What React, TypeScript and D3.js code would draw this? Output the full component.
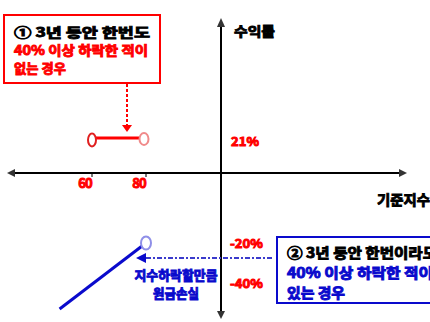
import React from "react";
import * as d3 from "d3";

// Data
const xTicks = [60, 80];
const yLabels = [21, -20, -40];
const redSeries: [number, number][] = [[60, 21], [80, 21]];
const blueSeries: [number, number][] = [[80, -20], [48, -53]];
const box1Lines = ["① 3년 동안 한번도", "40% 이상 하락한 적이", "없는 경우"];
const box2Lines = ["② 3년 동안 한번이라도", "40% 이상 하락한 적이", "있는 경우"];
const blueNote = ["지수하락할만큼", "원금손실"];
const axisTitles = ["수익률", "기준지수"];

const W = 430, H = 322;
const FONT = "'Noto Sans CJK KR', 'Noto Sans', sans-serif";
const RED = "#ff0000";
const BLUE = "#0a0acc";

function T(props: any) {
  const { fill, sw = 0.9, children, ...rest } = props;
  return (
    <text fontFamily={FONT} fontWeight={700} fill={fill} stroke={fill} strokeWidth={sw} {...rest}>{children}</text>
  );
}

export default function App() {
  const x = d3.scaleLinear().domain([60, 80]).range([92, 146]);
  const y = d3.scaleLinear().domain([-40, -20, 0, 21]).range([283, 243, 173, 138]);
  const axisX = 221;
  const axisY = y(0);
  const line = d3.line<[number, number]>().x(d => x(d[0])).y(d => y(d[1]));
  const dashY = y(-27.5);

  return (
    <svg width={W} height={H} style={{ position: "absolute", left: 0, top: 0, background: "#fff" }}>
      {/* axes */}
      <line x1={12} x2={402} y1={axisY} y2={axisY} stroke="#000" strokeWidth={2} />
      <line x1={axisX} x2={axisX} y1={22} y2={315} stroke="#000" strokeWidth={2} />
      <path d={`M${7},${axisY} l8,-4 l0,8 z`} fill="#333" />
      <path d={`M${407},${axisY} l-8,-4 l0,8 z`} fill="#333" />
      <path d={`M${axisX},${18} l-4,9 l8,0 z`} fill="#333" />
      <path d={`M${axisX},${319} l-4,-8 l8,0 z`} fill="#333" />
      <T x={234} y={36} fontSize={13} fill="#000" textLength={41} lengthAdjust="spacingAndGlyphs">{axisTitles[0]}</T>
      <T x={377} y={205} fontSize={14} fill="#000" textLength={53} lengthAdjust="spacingAndGlyphs">{axisTitles[1]}</T>

      {/* x ticks */}
      {xTicks.map(t => (
        <g key={t}>
          <rect x={x(t) - 1} y={axisY + 1} width={2} height={3} fill="#777" />
          <T x={x(t) - 7} y={188} textAnchor="middle" fontSize={13} fill={RED} letterSpacing={-1}>{t}</T>
        </g>
      ))}
      {/* y labels */}
      {yLabels.map(v => (
        <T key={v} x={v > 0 ? 231 : 230} y={(v > 0 ? y(v) + 3 : y(v)) + 5} fontSize={12} fill={RED}
          textLength={v > 0 ? 28 : 33} lengthAdjust="spacingAndGlyphs">{v}%</T>
      ))}

      {/* red series */}
      <path d={line(redSeries) || ""} stroke={RED} strokeWidth={3} fill="none" />
      <ellipse cx={x(redSeries[0][0])} cy={y(redSeries[0][1]) + 2} rx={4} ry={6.5} fill="#fff" stroke="#e02020" strokeWidth={2} />
      <ellipse cx={x(redSeries[1][0]) - 2} cy={y(redSeries[1][1]) + 1} rx={4.5} ry={6} fill="#fff" stroke="#f08a8a" strokeWidth={2} />

      {/* blue series */}
      <path d={line(blueSeries) || ""} stroke={BLUE} strokeWidth={3} fill="none" />
      <ellipse cx={x(blueSeries[0][0])} cy={y(blueSeries[0][1])} rx={5} ry={6.5} fill="#fff" stroke="#8f8fe8" strokeWidth={2} />

      {/* red box */}
      <rect x={4} y={15} width={156} height={68} fill="none" stroke={RED} strokeWidth={2} />
      {box1Lines.map((s, i) => (
        <T key={i} x={14} y={37 + i * 18} fontSize={13}
          fill={i === 0 ? "#000" : RED} textLength={[136, 134, 52][i]} lengthAdjust="spacingAndGlyphs">{s}</T>
      ))}
      {/* red dashed arrow */}
      <line x1={127} x2={127} y1={84} y2={125} stroke={RED} strokeWidth={2} strokeDasharray="3,2" />
      <path d={`M${122},${125} l10,0 l-5,7 z`} fill={RED} />

      {/* blue box */}
      <rect x={277} y={237} width={170} height={66} fill="none" stroke={BLUE} strokeWidth={2} />
      {box2Lines.map((s, i) => (
        <T key={i} x={287} y={258 + i * 20} fontSize={14}
          fill={i === 0 ? "#000" : BLUE} textLength={[150, 146, 58][i]} lengthAdjust="spacingAndGlyphs">{s}</T>
      ))}
      {/* blue dash-dot pointer */}
      <line x1={146} x2={274} y1={dashY} y2={dashY} stroke="#3b3bcc" strokeWidth={2} strokeDasharray="5,2,2,2" />
      <path d={`M${136},${dashY} l10,-5 l0,10 z`} fill={BLUE} />
      {blueNote.map((s, i) => (
        <T key={i} x={176} y={280 + i * 18} textAnchor="middle" fontSize={13}
          fill={BLUE} textLength={i === 0 ? 83 : 46} lengthAdjust="spacingAndGlyphs">{s}</T>
      ))}
    </svg>
  );
}
